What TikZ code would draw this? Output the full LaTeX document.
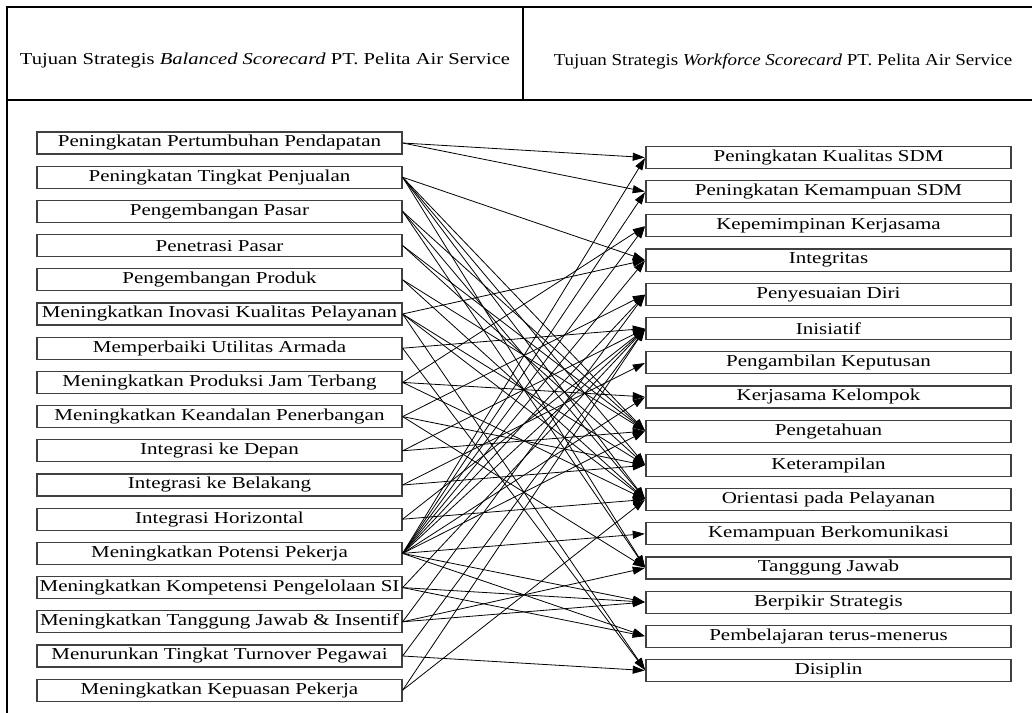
\documentclass[tikz,border=0pt]{standalone}
\usepackage{fontspec}
\setmainfont{Liberation Serif}
\usetikzlibrary{arrows.meta}
\newcommand{\sx}[1]{\scalebox{1.26}[1]{#1}}
\newcommand{\sxh}[2]{\scalebox{#1}[1]{#2}}
\tikzset{
  lbox/.style={draw=black!75, line width=0.9pt, minimum width=365*0.75pt, minimum height=22*0.75pt, inner sep=0pt, font=\fontsize{12.5pt}{14pt}\selectfont},
  conn/.style={draw=black, line width=0.6pt, -{Triangle[length=9pt,width=6pt]}, shorten >=0.5pt},
  frame/.style={draw=black, line width=0.9pt},
  htext/.style={inner sep=0pt, font=\fontsize{12.5pt}{14pt}\selectfont}
}
\begin{document}
\begin{tikzpicture}[x=0.75pt,y=-0.75pt]
\useasboundingbox (0,0) rectangle (1032,713);
% frame
\draw[frame] (7,713) -- (7,7) -- (1032,7);
\draw[frame] (7,100) -- (1032,100);
\draw[frame] (523,7) -- (523,100);
\node[htext] (h1) at (265,61) {\sxh{1.235}{Tujuan Strategis \textit{Balanced Scorecard} PT. Pelita Air Service}};
\node[htext] (h2) at (783,61) {\sxh{1.14}{Tujuan Strategis \textit{Workforce Scorecard} PT. Pelita Air Service}};
% left boxes
\foreach \i/\t in {1/Peningkatan Pertumbuhan Pendapatan,2/Peningkatan Tingkat Penjualan,3/Pengembangan Pasar,4/Penetrasi Pasar,5/Pengembangan Produk,6/Meningkatkan Inovasi Kualitas Pelayanan,7/Memperbaiki Utilitas Armada,8/Meningkatkan Produksi Jam Terbang,9/Meningkatkan Keandalan Penerbangan,10/Integrasi ke Depan,11/Integrasi ke Belakang,12/Integrasi Horizontal,13/Meningkatkan Potensi Pekerja,14/Meningkatkan Kompetensi Pengelolaan SI,15/Meningkatkan Tanggung Jawab \& Insentif,16/Menurunkan Tingkat Turnover Pegawai,17/Meningkatkan Kepuasan Pekerja}
  \node[lbox] (L\i) at (219.5,{143+34.2*(\i-1)}) {\sx{\t}};
% right boxes
\foreach \j/\t in {1/Peningkatan Kualitas SDM,2/Peningkatan Kemampuan SDM,3/Kepemimpinan Kerjasama,4/Integritas,5/Penyesuaian Diri,6/Inisiatif,7/Pengambilan Keputusan,8/Kerjasama Kelompok,9/Pengetahuan,10/Keterampilan,11/Orientasi pada Pelayanan,12/Kemampuan Berkomunikasi,13/Tanggung Jawab,14/Berpikir Strategis,15/Pembelajaran terus-menerus,16/Disiplin}
  \node[lbox] (R\j) at (828.5,{157.5+34.2*(\j-1)}) {\sx{\t}};
% connectors
\foreach \s/\d in {1/1,1/2,
  2/4,2/9,2/10,2/11,2/13,
  3/9,3/11,3/13,
  4/9,4/10,
  5/9,5/11,
  6/4,6/10,6/11,6/16,
  7/6,7/16,
  8/3,8/8,8/11,
  9/5,9/10,9/13,
  10/6,10/9,
  11/7,11/10,
  12/6,12/11,
  13/1,13/2,13/3,13/4,13/5,13/6,13/8,13/9,13/12,13/14,13/15,
  14/6,14/14,14/15,
  15/5,15/13,15/14,
  16/6,16/16,
  17/6,17/11}
  \draw[conn] (L\s.east) -- (R\d.west);
\end{tikzpicture}
\end{document}
